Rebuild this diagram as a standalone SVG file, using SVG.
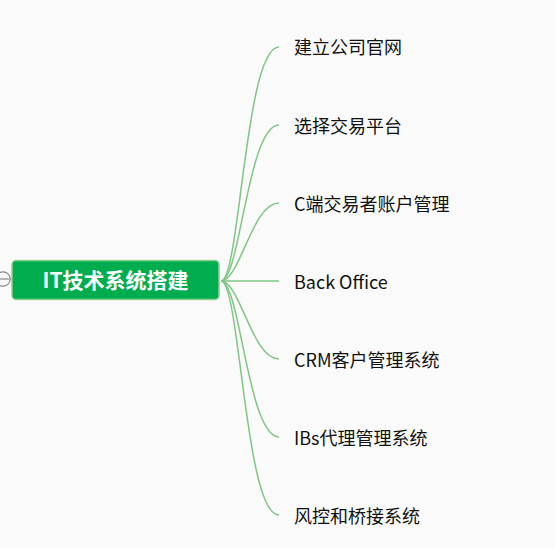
<svg xmlns="http://www.w3.org/2000/svg" width="555" height="548" viewBox="0 0 555 548">
<style>
.bg{fill:#fafafa}
.conn{fill:none;stroke:#80c684;stroke-width:1.5}
.lbl{font-family:"Microsoft YaHei","Noto Sans CJK SC","Noto Sans",sans-serif;font-size:18px;fill:#111}
.root{fill:#00ad4e;stroke:#90d090;stroke-width:1.5}
.rootlbl{font-family:"Microsoft YaHei","Noto Sans CJK SC","Noto Sans",sans-serif;font-size:21px;font-weight:bold;fill:#fff}
</style>
<rect class="bg" x="0" y="0" width="555" height="548"/>
<g id="connectors">
<path class="conn" d="M221,281 C240,281 245,47 279,47"/>
<path class="conn" d="M221,281 C240,281 248,125 279,125"/>
<path class="conn" d="M221,281 C240,281 252,203 279,203"/>
<path class="conn" d="M221,281 L279,281"/>
<path class="conn" d="M221,281 C240,281 252,359 279,359"/>
<path class="conn" d="M221,281 C240,281 248,437 279,437"/>
<path class="conn" d="M221,281 C240,281 245,515 279,515"/>
</g>
<g id="collapse">
<line x1="10" y1="279" x2="12" y2="279" stroke="#888" stroke-width="1"/>
<circle cx="3" cy="279" r="7.2" fill="#fafafa" stroke="#888" stroke-width="1.2"/>
<line x1="-3" y1="279" x2="9" y2="279" stroke="#888" stroke-width="1.2"/>
</g>
<g id="root">
<rect class="root" x="12" y="260.5" width="207" height="39" rx="4"/>
<text class="rootlbl" x="115.5" y="288" text-anchor="middle">IT技术系统搭建</text>
</g>
<g id="n1"><text class="lbl" x="294" y="54">建立公司官网</text></g>
<g id="n2"><text class="lbl" x="294" y="133">选择交易平台</text></g>
<g id="n3"><text class="lbl" x="294" y="211">C端交易者账户管理</text></g>
<g id="n4"><text class="lbl" x="294" y="289">Back Office</text></g>
<g id="n5"><text class="lbl" x="294" y="367">CRM客户管理系统</text></g>
<g id="n6"><text class="lbl" x="294" y="445">IBs代理管理系统</text></g>
<g id="n7"><text class="lbl" x="294" y="523">风控和桥接系统</text></g>
</svg>
